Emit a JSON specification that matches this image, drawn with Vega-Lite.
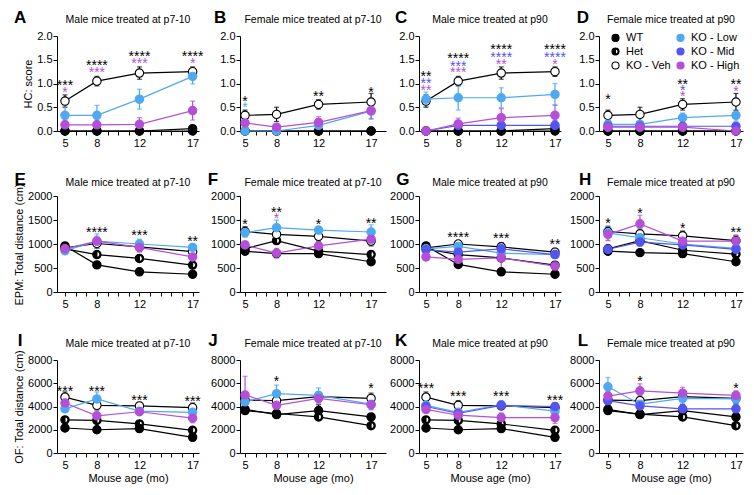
{
"$schema": "https://vega.github.io/schema/vega-lite/v6.json",
"background": "white",
"padding": {"left": 13, "top": 8, "right": 5, "bottom": 5},
"columns": 4,
"align": "each",
"spacing": {"row": 23, "column": 3},
"resolve": {"scale": {"fill": "independent", "stroke": "independent", "shape": "independent", "color": "independent"}, "legend": {"fill": "independent", "stroke": "independent", "shape": "independent", "color": "independent"}},
"datasets": {
"pts": [
{"p":"A","g":"WT","x":5,"y":0,"e":0},{"p":"A","g":"WT","x":8,"y":0,"e":0},{"p":"A","g":"WT","x":12,"y":0,"e":0},{"p":"A","g":"WT","x":17,"y":0,"e":0},
{"p":"A","g":"Het","x":5,"y":0,"e":0},{"p":"A","g":"Het","x":8,"y":0,"e":0},{"p":"A","g":"Het","x":12,"y":0,"e":0},{"p":"A","g":"Het","x":17,"y":0.05,"e":0.02},
{"p":"A","g":"KO - Veh","x":5,"y":0.63,"e":0.13},{"p":"A","g":"KO - Veh","x":8,"y":1.05,"e":0.1},{"p":"A","g":"KO - Veh","x":12,"y":1.22,"e":0.13},{"p":"A","g":"KO - Veh","x":17,"y":1.25,"e":0.1},
{"p":"A","g":"KO - Low","x":5,"y":0.33,"e":0.2},{"p":"A","g":"KO - Low","x":8,"y":0.33,"e":0.21},{"p":"A","g":"KO - Low","x":12,"y":0.67,"e":0.21},{"p":"A","g":"KO - Low","x":17,"y":1.15,"e":0.16},
{"p":"A","g":"KO - High","x":5,"y":0.13,"e":0.1},{"p":"A","g":"KO - High","x":8,"y":0.13,"e":0.1},{"p":"A","g":"KO - High","x":12,"y":0.14,"e":0.14},{"p":"A","g":"KO - High","x":17,"y":0.43,"e":0.2},

{"p":"B","g":"WT","x":5,"y":0,"e":0},{"p":"B","g":"WT","x":8,"y":0,"e":0},{"p":"B","g":"WT","x":12,"y":0,"e":0},{"p":"B","g":"WT","x":17,"y":0,"e":0},
{"p":"B","g":"Het","x":5,"y":0,"e":0},{"p":"B","g":"Het","x":8,"y":0,"e":0},{"p":"B","g":"Het","x":12,"y":0,"e":0},{"p":"B","g":"Het","x":17,"y":0,"e":0},
{"p":"B","g":"KO - Veh","x":5,"y":0.33,"e":0.11},{"p":"B","g":"KO - Veh","x":8,"y":0.35,"e":0.15},{"p":"B","g":"KO - Veh","x":12,"y":0.56,"e":0.1},{"p":"B","g":"KO - Veh","x":17,"y":0.61,"e":0.18},
{"p":"B","g":"KO - Low","x":5,"y":0,"e":0},{"p":"B","g":"KO - Low","x":8,"y":0,"e":0},{"p":"B","g":"KO - Low","x":12,"y":0.12,"e":0.1},{"p":"B","g":"KO - Low","x":17,"y":0.42,"e":0.17},
{"p":"B","g":"KO - High","x":5,"y":0.17,"e":0.06},{"p":"B","g":"KO - High","x":8,"y":0.08,"e":0.06},{"p":"B","g":"KO - High","x":12,"y":0.18,"e":0.12},{"p":"B","g":"KO - High","x":17,"y":0.43,"e":0.17},

{"p":"C","g":"WT","x":5,"y":0,"e":0},{"p":"C","g":"WT","x":8,"y":0,"e":0},{"p":"C","g":"WT","x":12,"y":0,"e":0},{"p":"C","g":"WT","x":17,"y":0,"e":0},
{"p":"C","g":"Het","x":5,"y":0,"e":0},{"p":"C","g":"Het","x":8,"y":0,"e":0},{"p":"C","g":"Het","x":12,"y":0,"e":0},{"p":"C","g":"Het","x":17,"y":0.05,"e":0.02},
{"p":"C","g":"KO - Veh","x":5,"y":0.63,"e":0.13},{"p":"C","g":"KO - Veh","x":8,"y":1.05,"e":0.1},{"p":"C","g":"KO - Veh","x":12,"y":1.22,"e":0.13},{"p":"C","g":"KO - Veh","x":17,"y":1.25,"e":0.1},
{"p":"C","g":"KO - Low","x":5,"y":0.67,"e":0.15},{"p":"C","g":"KO - Low","x":8,"y":0.7,"e":0.26},{"p":"C","g":"KO - Low","x":12,"y":0.7,"e":0.21},{"p":"C","g":"KO - Low","x":17,"y":0.77,"e":0.23},
{"p":"C","g":"KO - Mid","x":5,"y":0,"e":0},{"p":"C","g":"KO - Mid","x":8,"y":0.12,"e":0.1},{"p":"C","g":"KO - Mid","x":12,"y":0.12,"e":0.1},{"p":"C","g":"KO - Mid","x":17,"y":0.12,"e":0.1},
{"p":"C","g":"KO - High","x":5,"y":0,"e":0},{"p":"C","g":"KO - High","x":8,"y":0.15,"e":0.12},{"p":"C","g":"KO - High","x":12,"y":0.28,"e":0.19},{"p":"C","g":"KO - High","x":17,"y":0.33,"e":0.22},

{"p":"D","g":"WT","x":5,"y":0,"e":0},{"p":"D","g":"WT","x":8,"y":0,"e":0},{"p":"D","g":"WT","x":12,"y":0,"e":0},{"p":"D","g":"WT","x":17,"y":0,"e":0},
{"p":"D","g":"Het","x":5,"y":0,"e":0},{"p":"D","g":"Het","x":8,"y":0,"e":0},{"p":"D","g":"Het","x":12,"y":0,"e":0},{"p":"D","g":"Het","x":17,"y":0,"e":0},
{"p":"D","g":"KO - Veh","x":5,"y":0.33,"e":0.11},{"p":"D","g":"KO - Veh","x":8,"y":0.35,"e":0.15},{"p":"D","g":"KO - Veh","x":12,"y":0.56,"e":0.12},{"p":"D","g":"KO - Veh","x":17,"y":0.61,"e":0.18},
{"p":"D","g":"KO - Low","x":5,"y":0.14,"e":0.06},{"p":"D","g":"KO - Low","x":8,"y":0.14,"e":0.06},{"p":"D","g":"KO - Low","x":12,"y":0.28,"e":0.1},{"p":"D","g":"KO - Low","x":17,"y":0.33,"e":0.12},
{"p":"D","g":"KO - Mid","x":5,"y":0.1,"e":0.05},{"p":"D","g":"KO - Mid","x":8,"y":0.1,"e":0.05},{"p":"D","g":"KO - Mid","x":12,"y":0.1,"e":0.06},{"p":"D","g":"KO - Mid","x":17,"y":0.1,"e":0.06},
{"p":"D","g":"KO - High","x":5,"y":0.08,"e":0.05},{"p":"D","g":"KO - High","x":8,"y":0.08,"e":0.05},{"p":"D","g":"KO - High","x":12,"y":0.08,"e":0.07},{"p":"D","g":"KO - High","x":17,"y":0,"e":0},

{"p":"E","g":"WT","x":5,"y":960,"e":50},{"p":"E","g":"WT","x":8,"y":565,"e":40},{"p":"E","g":"WT","x":12,"y":420,"e":60},{"p":"E","g":"WT","x":17,"y":370,"e":60},
{"p":"E","g":"Het","x":5,"y":900,"e":60},{"p":"E","g":"Het","x":8,"y":780,"e":50},{"p":"E","g":"Het","x":12,"y":700,"e":60},{"p":"E","g":"Het","x":17,"y":560,"e":60},
{"p":"E","g":"KO - Veh","x":5,"y":920,"e":60},{"p":"E","g":"KO - Veh","x":8,"y":1010,"e":100},{"p":"E","g":"KO - Veh","x":12,"y":940,"e":90},{"p":"E","g":"KO - Veh","x":17,"y":840,"e":80},
{"p":"E","g":"KO - Low","x":5,"y":860,"e":80},{"p":"E","g":"KO - Low","x":8,"y":1060,"e":150},{"p":"E","g":"KO - Low","x":12,"y":1000,"e":100},{"p":"E","g":"KO - Low","x":17,"y":930,"e":80},
{"p":"E","g":"KO - High","x":5,"y":900,"e":50},{"p":"E","g":"KO - High","x":8,"y":1060,"e":100},{"p":"E","g":"KO - High","x":12,"y":930,"e":100},{"p":"E","g":"KO - High","x":17,"y":730,"e":100},

{"p":"F","g":"WT","x":5,"y":850,"e":50},{"p":"F","g":"WT","x":8,"y":800,"e":60},{"p":"F","g":"WT","x":12,"y":800,"e":70},{"p":"F","g":"WT","x":17,"y":630,"e":40},
{"p":"F","g":"Het","x":5,"y":900,"e":60},{"p":"F","g":"Het","x":8,"y":1070,"e":60},{"p":"F","g":"Het","x":12,"y":850,"e":60},{"p":"F","g":"Het","x":17,"y":780,"e":50},
{"p":"F","g":"KO - Veh","x":5,"y":1260,"e":100},{"p":"F","g":"KO - Veh","x":8,"y":1200,"e":100},{"p":"F","g":"KO - Veh","x":12,"y":1160,"e":100},{"p":"F","g":"KO - Veh","x":17,"y":1060,"e":100},
{"p":"F","g":"KO - Low","x":5,"y":1240,"e":100},{"p":"F","g":"KO - Low","x":8,"y":1340,"e":160},{"p":"F","g":"KO - Low","x":12,"y":1290,"e":60},{"p":"F","g":"KO - Low","x":17,"y":1250,"e":150},
{"p":"F","g":"KO - High","x":5,"y":980,"e":80},{"p":"F","g":"KO - High","x":8,"y":810,"e":100},{"p":"F","g":"KO - High","x":12,"y":960,"e":80},{"p":"F","g":"KO - High","x":17,"y":1100,"e":80},

{"p":"G","g":"WT","x":5,"y":960,"e":50},{"p":"G","g":"WT","x":8,"y":575,"e":40},{"p":"G","g":"WT","x":12,"y":420,"e":60},{"p":"G","g":"WT","x":17,"y":370,"e":60},
{"p":"G","g":"Het","x":5,"y":900,"e":60},{"p":"G","g":"Het","x":8,"y":780,"e":50},{"p":"G","g":"Het","x":12,"y":710,"e":60},{"p":"G","g":"Het","x":17,"y":560,"e":60},
{"p":"G","g":"KO - Veh","x":5,"y":920,"e":60},{"p":"G","g":"KO - Veh","x":8,"y":1000,"e":60},{"p":"G","g":"KO - Veh","x":12,"y":940,"e":90},{"p":"G","g":"KO - Veh","x":17,"y":830,"e":80},
{"p":"G","g":"KO - Low","x":5,"y":900,"e":70},{"p":"G","g":"KO - Low","x":8,"y":950,"e":80},{"p":"G","g":"KO - Low","x":12,"y":810,"e":100},{"p":"G","g":"KO - Low","x":17,"y":780,"e":70},
{"p":"G","g":"KO - Mid","x":5,"y":880,"e":60},{"p":"G","g":"KO - Mid","x":8,"y":830,"e":60},{"p":"G","g":"KO - Mid","x":12,"y":900,"e":100},{"p":"G","g":"KO - Mid","x":17,"y":780,"e":60},
{"p":"G","g":"KO - High","x":5,"y":730,"e":60},{"p":"G","g":"KO - High","x":8,"y":680,"e":60},{"p":"G","g":"KO - High","x":12,"y":710,"e":300},{"p":"G","g":"KO - High","x":17,"y":540,"e":60},

{"p":"H","g":"WT","x":5,"y":850,"e":50},{"p":"H","g":"WT","x":8,"y":820,"e":40},{"p":"H","g":"WT","x":12,"y":800,"e":80},{"p":"H","g":"WT","x":17,"y":630,"e":40},
{"p":"H","g":"Het","x":5,"y":900,"e":60},{"p":"H","g":"Het","x":8,"y":1070,"e":60},{"p":"H","g":"Het","x":12,"y":870,"e":60},{"p":"H","g":"Het","x":17,"y":790,"e":50},
{"p":"H","g":"KO - Veh","x":5,"y":1260,"e":100},{"p":"H","g":"KO - Veh","x":8,"y":1210,"e":100},{"p":"H","g":"KO - Veh","x":12,"y":1170,"e":100},{"p":"H","g":"KO - Veh","x":17,"y":1070,"e":100},
{"p":"H","g":"KO - Low","x":5,"y":1230,"e":150},{"p":"H","g":"KO - Low","x":8,"y":1130,"e":80},{"p":"H","g":"KO - Low","x":12,"y":1000,"e":80},{"p":"H","g":"KO - Low","x":17,"y":910,"e":80},
{"p":"H","g":"KO - Mid","x":5,"y":890,"e":80},{"p":"H","g":"KO - Mid","x":8,"y":1040,"e":80},{"p":"H","g":"KO - Mid","x":12,"y":980,"e":80},{"p":"H","g":"KO - Mid","x":17,"y":890,"e":70},
{"p":"H","g":"KO - High","x":5,"y":1200,"e":130},{"p":"H","g":"KO - High","x":8,"y":1420,"e":180},{"p":"H","g":"KO - High","x":12,"y":1060,"e":80},{"p":"H","g":"KO - High","x":17,"y":1060,"e":130},

{"p":"I","g":"WT","x":5,"y":2150,"e":150},{"p":"I","g":"WT","x":8,"y":2000,"e":150},{"p":"I","g":"WT","x":12,"y":2100,"e":250},{"p":"I","g":"WT","x":17,"y":1350,"e":250},
{"p":"I","g":"Het","x":5,"y":2850,"e":150},{"p":"I","g":"Het","x":8,"y":2800,"e":150},{"p":"I","g":"Het","x":12,"y":2500,"e":150},{"p":"I","g":"Het","x":17,"y":1950,"e":150},
{"p":"I","g":"KO - Veh","x":5,"y":4800,"e":450},{"p":"I","g":"KO - Veh","x":8,"y":4100,"e":400},{"p":"I","g":"KO - Veh","x":12,"y":4050,"e":300},{"p":"I","g":"KO - Veh","x":17,"y":3900,"e":400},
{"p":"I","g":"KO - Low","x":5,"y":3800,"e":300},{"p":"I","g":"KO - Low","x":8,"y":4650,"e":600},{"p":"I","g":"KO - Low","x":12,"y":3600,"e":300},{"p":"I","g":"KO - Low","x":17,"y":3500,"e":400},
{"p":"I","g":"KO - High","x":5,"y":4300,"e":300},{"p":"I","g":"KO - High","x":8,"y":3200,"e":300},{"p":"I","g":"KO - High","x":12,"y":3550,"e":300},{"p":"I","g":"KO - High","x":17,"y":3000,"e":400},

{"p":"J","g":"WT","x":5,"y":3750,"e":300},{"p":"J","g":"WT","x":8,"y":3300,"e":200},{"p":"J","g":"WT","x":12,"y":3650,"e":500},{"p":"J","g":"WT","x":17,"y":3100,"e":200},
{"p":"J","g":"Het","x":5,"y":3650,"e":200},{"p":"J","g":"Het","x":8,"y":3400,"e":200},{"p":"J","g":"Het","x":12,"y":3100,"e":200},{"p":"J","g":"Het","x":17,"y":2350,"e":150},
{"p":"J","g":"KO - Veh","x":5,"y":4550,"e":400},{"p":"J","g":"KO - Veh","x":8,"y":4500,"e":400},{"p":"J","g":"KO - Veh","x":12,"y":4850,"e":400},{"p":"J","g":"KO - Veh","x":17,"y":4700,"e":450},
{"p":"J","g":"KO - Low","x":5,"y":4400,"e":400},{"p":"J","g":"KO - Low","x":8,"y":5100,"e":750},{"p":"J","g":"KO - Low","x":12,"y":4950,"e":650},{"p":"J","g":"KO - Low","x":17,"y":4200,"e":500},
{"p":"J","g":"KO - High","x":5,"y":5000,"e":1600},{"p":"J","g":"KO - High","x":8,"y":4100,"e":400},{"p":"J","g":"KO - High","x":12,"y":4700,"e":400},{"p":"J","g":"KO - High","x":17,"y":4150,"e":400},

{"p":"K","g":"WT","x":5,"y":2150,"e":150},{"p":"K","g":"WT","x":8,"y":2000,"e":150},{"p":"K","g":"WT","x":12,"y":2100,"e":250},{"p":"K","g":"WT","x":17,"y":1350,"e":250},
{"p":"K","g":"Het","x":5,"y":2850,"e":150},{"p":"K","g":"Het","x":8,"y":2800,"e":150},{"p":"K","g":"Het","x":12,"y":2500,"e":150},{"p":"K","g":"Het","x":17,"y":1950,"e":150},
{"p":"K","g":"KO - Veh","x":5,"y":4800,"e":450},{"p":"K","g":"KO - Veh","x":8,"y":4100,"e":400},{"p":"K","g":"KO - Veh","x":12,"y":4050,"e":300},{"p":"K","g":"KO - Veh","x":17,"y":3900,"e":400},
{"p":"K","g":"KO - Low","x":5,"y":4100,"e":300},{"p":"K","g":"KO - Low","x":8,"y":3500,"e":300},{"p":"K","g":"KO - Low","x":12,"y":4150,"e":300},{"p":"K","g":"KO - Low","x":17,"y":3600,"e":400},
{"p":"K","g":"KO - Mid","x":5,"y":4000,"e":300},{"p":"K","g":"KO - Mid","x":8,"y":3400,"e":300},{"p":"K","g":"KO - Mid","x":12,"y":4100,"e":300},{"p":"K","g":"KO - Mid","x":17,"y":4000,"e":300},
{"p":"K","g":"KO - High","x":5,"y":3750,"e":300},{"p":"K","g":"KO - High","x":8,"y":3250,"e":300},{"p":"K","g":"KO - High","x":12,"y":3050,"e":400},{"p":"K","g":"KO - High","x":17,"y":3050,"e":500},

{"p":"L","g":"WT","x":5,"y":3750,"e":300},{"p":"L","g":"WT","x":8,"y":3300,"e":200},{"p":"L","g":"WT","x":12,"y":3650,"e":500},{"p":"L","g":"WT","x":17,"y":3100,"e":200},
{"p":"L","g":"Het","x":5,"y":3650,"e":200},{"p":"L","g":"Het","x":8,"y":3350,"e":200},{"p":"L","g":"Het","x":12,"y":3100,"e":200},{"p":"L","g":"Het","x":17,"y":2350,"e":150},
{"p":"L","g":"KO - Veh","x":5,"y":4550,"e":400},{"p":"L","g":"KO - Veh","x":8,"y":4500,"e":400},{"p":"L","g":"KO - Veh","x":12,"y":4850,"e":400},{"p":"L","g":"KO - Veh","x":17,"y":4700,"e":450},
{"p":"L","g":"KO - Low","x":5,"y":5700,"e":800},{"p":"L","g":"KO - Low","x":8,"y":4200,"e":400},{"p":"L","g":"KO - Low","x":12,"y":4700,"e":500},{"p":"L","g":"KO - Low","x":17,"y":4650,"e":400},
{"p":"L","g":"KO - Mid","x":5,"y":4500,"e":400},{"p":"L","g":"KO - Mid","x":8,"y":4050,"e":400},{"p":"L","g":"KO - Mid","x":12,"y":3800,"e":400},{"p":"L","g":"KO - Mid","x":17,"y":3800,"e":400},
{"p":"L","g":"KO - High","x":5,"y":4900,"e":400},{"p":"L","g":"KO - High","x":8,"y":5350,"e":600},{"p":"L","g":"KO - High","x":12,"y":5150,"e":500},{"p":"L","g":"KO - High","x":17,"y":4950,"e":400}
],
"stars": [
{"p":"A","g":"KO - Veh","x":5,"y":1.03,"t":"***"},{"p":"A","g":"KO - High","x":5,"y":0.88,"t":"*"},
{"p":"A","g":"KO - Veh","x":8,"y":1.45,"t":"****"},{"p":"A","g":"KO - High","x":8,"y":1.3,"t":"***"},
{"p":"A","g":"KO - Veh","x":12,"y":1.64,"t":"****"},{"p":"A","g":"KO - High","x":12,"y":1.49,"t":"***"},
{"p":"A","g":"KO - Veh","x":17,"y":1.64,"t":"****"},{"p":"A","g":"KO - High","x":17,"y":1.49,"t":"*"},
{"p":"B","g":"KO - Veh","x":5,"y":0.7,"t":"*"},{"p":"B","g":"KO - Low","x":5,"y":0.57,"t":"*"},
{"p":"B","g":"KO - Veh","x":12,"y":0.8,"t":"**"},{"p":"B","g":"KO - Veh","x":17,"y":0.88,"t":"*"},
{"p":"C","g":"KO - Veh","x":5,"y":1.22,"t":"**"},{"p":"C","g":"KO - Mid","x":5,"y":1.07,"t":"**"},{"p":"C","g":"KO - High","x":5,"y":0.93,"t":"**"},
{"p":"C","g":"KO - Veh","x":8,"y":1.6,"t":"****"},{"p":"C","g":"KO - Mid","x":8,"y":1.43,"t":"***"},{"p":"C","g":"KO - High","x":8,"y":1.3,"t":"***"},
{"p":"C","g":"KO - Veh","x":12,"y":1.79,"t":"****"},{"p":"C","g":"KO - Mid","x":12,"y":1.62,"t":"****"},{"p":"C","g":"KO - High","x":12,"y":1.47,"t":"**"},
{"p":"C","g":"KO - Veh","x":17,"y":1.79,"t":"****"},{"p":"C","g":"KO - Mid","x":17,"y":1.62,"t":"****"},{"p":"C","g":"KO - High","x":17,"y":1.47,"t":"*"},
{"p":"D","g":"KO - Veh","x":5,"y":0.74,"t":"*"},
{"p":"D","g":"KO - Veh","x":12,"y":1.05,"t":"**"},{"p":"D","g":"KO - Mid","x":12,"y":0.93,"t":"*"},{"p":"D","g":"KO - High","x":12,"y":0.8,"t":"*"},
{"p":"D","g":"KO - Veh","x":17,"y":1.05,"t":"**"},{"p":"D","g":"KO - High","x":17,"y":0.9,"t":"*"},
{"p":"E","g":"KO - Veh","x":8,"y":1320,"t":"****"},{"p":"E","g":"KO - Veh","x":12,"y":1250,"t":"***"},{"p":"E","g":"KO - Veh","x":17,"y":1130,"t":"**"},
{"p":"F","g":"KO - Veh","x":5,"y":1470,"t":"*"},{"p":"F","g":"KO - Veh","x":8,"y":1720,"t":"**"},{"p":"F","g":"KO - High","x":8,"y":1600,"t":"*"},
{"p":"F","g":"KO - Veh","x":12,"y":1470,"t":"*"},{"p":"F","g":"KO - Veh","x":17,"y":1490,"t":"**"},
{"p":"G","g":"KO - Veh","x":8,"y":1215,"t":"****"},{"p":"G","g":"KO - Veh","x":12,"y":1180,"t":"***"},{"p":"G","g":"KO - Veh","x":17,"y":1056,"t":"**"},
{"p":"H","g":"KO - Veh","x":5,"y":1510,"t":"*"},{"p":"H","g":"KO - Veh","x":8,"y":1700,"t":"*"},{"p":"H","g":"KO - Veh","x":12,"y":1400,"t":"*"},{"p":"H","g":"KO - Veh","x":17,"y":1320,"t":"**"},
{"p":"I","g":"KO - Veh","x":5,"y":5610,"t":"***"},{"p":"I","g":"KO - Veh","x":8,"y":5610,"t":"***"},{"p":"I","g":"KO - Veh","x":12,"y":4830,"t":"***"},{"p":"I","g":"KO - Veh","x":17,"y":4750,"t":"***"},
{"p":"J","g":"KO - Veh","x":8,"y":6470,"t":"*"},{"p":"J","g":"KO - Veh","x":17,"y":5890,"t":"*"},
{"p":"K","g":"KO - Veh","x":5,"y":5810,"t":"***"},{"p":"K","g":"KO - Veh","x":8,"y":5180,"t":"***"},{"p":"K","g":"KO - Veh","x":12,"y":5180,"t":"***"},{"p":"K","g":"KO - Veh","x":17,"y":4830,"t":"***"},
{"p":"L","g":"KO - Veh","x":8,"y":6470,"t":"*"},{"p":"L","g":"KO - Veh","x":17,"y":5890,"t":"*"}
]
},
"concat": [
{"width":142,"height":95,"title":"Male mice treated at p7-10","data":{"name":"pts"},"transform":[{"filter":"datum.p == 'A'"}],
"encoding":{"x":{"field":"x","type":"quantitative","scale":{"domain":[4.25,17.6],"nice":false,"zero":false},"axis":{"values":[5,6,7,8,9,10,11,12,13,14,15,16,17],"labelExpr":"indexof([5,8,12,17], datum.value) >= 0 ? datum.label : ''","title":null}},
"y":{"field":"y","type":"quantitative","scale":{"domain":[0,2],"nice":false,"zero":false},"axis":{"values":[0,0.5,1,1.5,2],"format":".1f","title":"HC: score"}}},
"layer":[
{"mark":{"type":"line","strokeWidth":1.2},"encoding":{"color":{"field":"g","type":"nominal","scale":{"domain":["KO - High","KO - Mid","KO - Low","KO - Veh","Het","WT"],"range":["#B44FD8","#5454F0","#4FA9F2","black","black","black"]},"legend":null}}},
{"mark":{"type":"errorbar","ticks":true,"thickness":1.2},"encoding":{"yError":{"field":"e"},"color":{"field":"g","type":"nominal","scale":{"domain":["KO - High","KO - Mid","KO - Low","KO - Veh","Het","WT"],"range":["#B44FD8","#5454F0","#4FA9F2","black","black","black"]},"legend":null}}},
{"transform":[{"filter":"datum.g == 'Het'"}],"mark":{"type":"point","shape":"circle","filled":true,"fill":"white","strokeWidth":0,"size":70,"opacity":1}},
{"mark":{"type":"point","filled":true,"size":70,"opacity":1,"strokeWidth":1.1},"encoding":{
"fill":{"field":"g","type":"nominal","scale":{"domain":["WT","Het","KO - Veh","KO - Low","KO - Mid","KO - High"],"range":["black","black","white","#4FA9F2","#5454F0","#B44FD8"]},"legend":null},
"stroke":{"field":"g","type":"nominal","scale":{"domain":["WT","Het","KO - Veh","KO - Low","KO - Mid","KO - High"],"range":["black","black","black","#4FA9F2","#5454F0","#B44FD8"]},"legend":null},
"shape":{"field":"g","type":"nominal","scale":{"domain":["WT","Het","KO - Veh","KO - Low","KO - Mid","KO - High"],"range":["circle","M0,-1A1,1,0,0,0,0,1Z M0,-1A1,1,0,0,1,0,1L0,0.72A0.72,0.72,0,0,0,0,-0.72Z","circle","circle","circle","circle"]},"legend":null}}},
{"data":{"name":"stars"},"transform":[{"filter":"datum.p == 'A'"}],"mark":{"type":"text","fontSize":14,"dy":8,"baseline":"alphabetic"},"encoding":{"text":{"field":"t"},"color":{"field":"g","type":"nominal","scale":{"domain":["KO - High","KO - Mid","KO - Low","KO - Veh","Het","WT"],"range":["#B44FD8","#5454F0","#4FA9F2","black","black","black"]},"legend":null}}},
{"transform":[{"filter":"datum.g == 'WT' && datum.x == 5"}],"mark":{"type":"text","text":"A","fontSize":17,"fontWeight":"bold","baseline":"middle"},"encoding":{"x":{"datum":0.78},"y":{"datum":2.38}}}
]},

{"width":146,"height":95,"title":"Female mice treated at p7-10","data":{"name":"pts"},"transform":[{"filter":"datum.p == 'B'"}],
"encoding":{"x":{"field":"x","type":"quantitative","scale":{"domain":[4.52,18.42],"nice":false,"zero":false},"axis":{"values":[5,6,7,8,9,10,11,12,13,14,15,16,17],"labelExpr":"indexof([5,8,12,17], datum.value) >= 0 ? datum.label : ''","title":null}},
"y":{"field":"y","type":"quantitative","scale":{"domain":[0,2],"nice":false,"zero":false},"axis":{"values":[0,0.5,1,1.5,2],"format":".1f","title":null}}},
"layer":[
{"mark":{"type":"line","strokeWidth":1.2},"encoding":{"color":{"field":"g","type":"nominal","scale":{"domain":["KO - High","KO - Mid","KO - Low","KO - Veh","Het","WT"],"range":["#B44FD8","#5454F0","#4FA9F2","black","black","black"]},"legend":null}}},
{"mark":{"type":"errorbar","ticks":true,"thickness":1.2},"encoding":{"yError":{"field":"e"},"color":{"field":"g","type":"nominal","scale":{"domain":["KO - High","KO - Mid","KO - Low","KO - Veh","Het","WT"],"range":["#B44FD8","#5454F0","#4FA9F2","black","black","black"]},"legend":null}}},
{"transform":[{"filter":"datum.g == 'Het'"}],"mark":{"type":"point","shape":"circle","filled":true,"fill":"white","strokeWidth":0,"size":70,"opacity":1}},
{"mark":{"type":"point","filled":true,"size":70,"opacity":1,"strokeWidth":1.1},"encoding":{
"fill":{"field":"g","type":"nominal","scale":{"domain":["WT","Het","KO - Veh","KO - Low","KO - Mid","KO - High"],"range":["black","black","white","#4FA9F2","#5454F0","#B44FD8"]},"legend":null},
"stroke":{"field":"g","type":"nominal","scale":{"domain":["WT","Het","KO - Veh","KO - Low","KO - Mid","KO - High"],"range":["black","black","black","#4FA9F2","#5454F0","#B44FD8"]},"legend":null},
"shape":{"field":"g","type":"nominal","scale":{"domain":["WT","Het","KO - Veh","KO - Low","KO - Mid","KO - High"],"range":["circle","M0,-1A1,1,0,0,0,0,1Z M0,-1A1,1,0,0,1,0,1L0,0.72A0.72,0.72,0,0,0,0,-0.72Z","circle","circle","circle","circle"]},"legend":null}}},
{"data":{"name":"stars"},"transform":[{"filter":"datum.p == 'B'"}],"mark":{"type":"text","fontSize":14,"dy":8,"baseline":"alphabetic"},"encoding":{"text":{"field":"t"},"color":{"field":"g","type":"nominal","scale":{"domain":["KO - High","KO - Mid","KO - Low","KO - Veh","Het","WT"],"range":["#B44FD8","#5454F0","#4FA9F2","black","black","black"]},"legend":null}}},
{"transform":[{"filter":"datum.g == 'WT' && datum.x == 5"}],"mark":{"type":"text","text":"B","fontSize":17,"fontWeight":"bold","baseline":"middle"},"encoding":{"x":{"datum":2.62},"y":{"datum":2.38}}}
]},

{"width":142,"height":95,"title":"Male mice treated at p90","data":{"name":"pts"},"transform":[{"filter":"datum.p == 'C'"}],
"encoding":{"x":{"field":"x","type":"quantitative","scale":{"domain":[4.35,17.56],"nice":false,"zero":false},"axis":{"values":[5,6,7,8,9,10,11,12,13,14,15,16,17],"labelExpr":"indexof([5,8,12,17], datum.value) >= 0 ? datum.label : ''","title":null}},
"y":{"field":"y","type":"quantitative","scale":{"domain":[0,2],"nice":false,"zero":false},"axis":{"values":[0,0.5,1,1.5,2],"format":".1f","title":null}}},
"layer":[
{"mark":{"type":"line","strokeWidth":1.2},"encoding":{"color":{"field":"g","type":"nominal","scale":{"domain":["KO - High","KO - Mid","KO - Low","KO - Veh","Het","WT"],"range":["#B44FD8","#5454F0","#4FA9F2","black","black","black"]},"legend":null}}},
{"mark":{"type":"errorbar","ticks":true,"thickness":1.2},"encoding":{"yError":{"field":"e"},"color":{"field":"g","type":"nominal","scale":{"domain":["KO - High","KO - Mid","KO - Low","KO - Veh","Het","WT"],"range":["#B44FD8","#5454F0","#4FA9F2","black","black","black"]},"legend":null}}},
{"transform":[{"filter":"datum.g == 'Het'"}],"mark":{"type":"point","shape":"circle","filled":true,"fill":"white","strokeWidth":0,"size":70,"opacity":1}},
{"mark":{"type":"point","filled":true,"size":70,"opacity":1,"strokeWidth":1.1},"encoding":{
"fill":{"field":"g","type":"nominal","scale":{"domain":["WT","Het","KO - Veh","KO - Low","KO - Mid","KO - High"],"range":["black","black","white","#4FA9F2","#5454F0","#B44FD8"]},"legend":null},
"stroke":{"field":"g","type":"nominal","scale":{"domain":["WT","Het","KO - Veh","KO - Low","KO - Mid","KO - High"],"range":["black","black","black","#4FA9F2","#5454F0","#B44FD8"]},"legend":null},
"shape":{"field":"g","type":"nominal","scale":{"domain":["WT","Het","KO - Veh","KO - Low","KO - Mid","KO - High"],"range":["circle","M0,-1A1,1,0,0,0,0,1Z M0,-1A1,1,0,0,1,0,1L0,0.72A0.72,0.72,0,0,0,0,-0.72Z","circle","circle","circle","circle"]},"legend":null}}},
{"data":{"name":"stars"},"transform":[{"filter":"datum.p == 'C'"}],"mark":{"type":"text","fontSize":14,"dy":8,"baseline":"alphabetic"},"encoding":{"text":{"field":"t"},"color":{"field":"g","type":"nominal","scale":{"domain":["KO - High","KO - Mid","KO - Low","KO - Veh","Het","WT"],"range":["#B44FD8","#5454F0","#4FA9F2","black","black","black"]},"legend":null}}},
{"transform":[{"filter":"datum.g == 'WT' && datum.x == 5"}],"mark":{"type":"text","text":"C","fontSize":17,"fontWeight":"bold","baseline":"middle"},"encoding":{"x":{"datum":2.68},"y":{"datum":2.38}}}
]},

{"width":144,"height":95,"title":"Female mice treated at p90","data":{"name":"pts"},"transform":[{"filter":"datum.p == 'D'"}],
"encoding":{"x":{"field":"x","type":"quantitative","scale":{"domain":[4.16,17.66],"nice":false,"zero":false},"axis":{"values":[5,6,7,8,9,10,11,12,13,14,15,16,17],"labelExpr":"indexof([5,8,12,17], datum.value) >= 0 ? datum.label : ''","title":null}},
"y":{"field":"y","type":"quantitative","scale":{"domain":[0,2],"nice":false,"zero":false},"axis":{"values":[0,0.5,1,1.5,2],"format":".1f","title":null}}},
"layer":[
{"mark":{"type":"line","strokeWidth":1.2},"encoding":{"color":{"field":"g","type":"nominal","scale":{"domain":["KO - High","KO - Mid","KO - Low","KO - Veh","Het","WT"],"range":["#B44FD8","#5454F0","#4FA9F2","black","black","black"]},"legend":null}}},
{"mark":{"type":"errorbar","ticks":true,"thickness":1.2},"encoding":{"yError":{"field":"e"},"color":{"field":"g","type":"nominal","scale":{"domain":["KO - High","KO - Mid","KO - Low","KO - Veh","Het","WT"],"range":["#B44FD8","#5454F0","#4FA9F2","black","black","black"]},"legend":null}}},
{"transform":[{"filter":"datum.g == 'Het'"}],"mark":{"type":"point","shape":"circle","filled":true,"fill":"white","strokeWidth":0,"size":70,"opacity":1}},
{"mark":{"type":"point","filled":true,"size":70,"opacity":1,"strokeWidth":1.1},"encoding":{
"fill":{"field":"g","type":"nominal","scale":{"domain":["WT","Het","KO - Veh","KO - Low","KO - Mid","KO - High"],"range":["black","black","white","#4FA9F2","#5454F0","#B44FD8"]},"legend":{"title":null,"orient":"none","legendX":11,"legendY":-4,"columns":2,"columnPadding":3,"rowPadding":1,"labelFontSize":11,"labelOffset":5,"symbolSize":50,"symbolStrokeWidth":1.1}},
"stroke":{"field":"g","type":"nominal","scale":{"domain":["WT","Het","KO - Veh","KO - Low","KO - Mid","KO - High"],"range":["black","black","black","#4FA9F2","#5454F0","#B44FD8"]},"legend":{"title":null,"orient":"none","legendX":11,"legendY":-4,"columns":2,"columnPadding":3,"rowPadding":1,"labelFontSize":11,"labelOffset":5,"symbolSize":50,"symbolStrokeWidth":1.1}},
"shape":{"field":"g","type":"nominal","scale":{"domain":["WT","Het","KO - Veh","KO - Low","KO - Mid","KO - High"],"range":["circle","M0,-1A1,1,0,0,0,0,1Z M0,-1A1,1,0,0,1,0,1L0,0.72A0.72,0.72,0,0,0,0,-0.72Z","circle","circle","circle","circle"]},"legend":{"title":null,"orient":"none","legendX":11,"legendY":-4,"columns":2,"columnPadding":3,"rowPadding":1,"labelFontSize":11,"labelOffset":5,"symbolSize":50,"symbolStrokeWidth":1.1}}}},
{"data":{"name":"stars"},"transform":[{"filter":"datum.p == 'D'"}],"mark":{"type":"text","fontSize":14,"dy":8,"baseline":"alphabetic"},"encoding":{"text":{"field":"t"},"color":{"field":"g","type":"nominal","scale":{"domain":["KO - High","KO - Mid","KO - Low","KO - Veh","Het","WT"],"range":["#B44FD8","#5454F0","#4FA9F2","black","black","black"]},"legend":null}}},
{"transform":[{"filter":"datum.g == 'WT' && datum.x == 5"}],"mark":{"type":"text","text":"D","fontSize":17,"fontWeight":"bold","baseline":"middle"},"encoding":{"x":{"datum":2.66},"y":{"datum":2.38}}}
]},

{"width":142,"height":96,"title":"Male mice treated at p7-10","data":{"name":"pts"},"transform":[{"filter":"datum.p == 'E'"}],
"encoding":{"x":{"field":"x","type":"quantitative","scale":{"domain":[4.25,17.6],"nice":false,"zero":false},"axis":{"values":[5,6,7,8,9,10,11,12,13,14,15,16,17],"labelExpr":"indexof([5,8,12,17], datum.value) >= 0 ? datum.label : ''","title":null}},
"y":{"field":"y","type":"quantitative","scale":{"domain":[0,2000],"nice":false,"zero":false},"axis":{"values":[0,500,1000,1500,2000],"format":"d","title":"EPM: Total distance (cm)"}}},
"layer":[
{"mark":{"type":"line","strokeWidth":1.2},"encoding":{"color":{"field":"g","type":"nominal","scale":{"domain":["KO - High","KO - Mid","KO - Low","KO - Veh","Het","WT"],"range":["#B44FD8","#5454F0","#4FA9F2","black","black","black"]},"legend":null}}},
{"mark":{"type":"errorbar","ticks":true,"thickness":1.2},"encoding":{"yError":{"field":"e"},"color":{"field":"g","type":"nominal","scale":{"domain":["KO - High","KO - Mid","KO - Low","KO - Veh","Het","WT"],"range":["#B44FD8","#5454F0","#4FA9F2","black","black","black"]},"legend":null}}},
{"transform":[{"filter":"datum.g == 'Het'"}],"mark":{"type":"point","shape":"circle","filled":true,"fill":"white","strokeWidth":0,"size":70,"opacity":1}},
{"mark":{"type":"point","filled":true,"size":70,"opacity":1,"strokeWidth":1.1},"encoding":{
"fill":{"field":"g","type":"nominal","scale":{"domain":["WT","Het","KO - Veh","KO - Low","KO - Mid","KO - High"],"range":["black","black","white","#4FA9F2","#5454F0","#B44FD8"]},"legend":null},
"stroke":{"field":"g","type":"nominal","scale":{"domain":["WT","Het","KO - Veh","KO - Low","KO - Mid","KO - High"],"range":["black","black","black","#4FA9F2","#5454F0","#B44FD8"]},"legend":null},
"shape":{"field":"g","type":"nominal","scale":{"domain":["WT","Het","KO - Veh","KO - Low","KO - Mid","KO - High"],"range":["circle","M0,-1A1,1,0,0,0,0,1Z M0,-1A1,1,0,0,1,0,1L0,0.72A0.72,0.72,0,0,0,0,-0.72Z","circle","circle","circle","circle"]},"legend":null}}},
{"data":{"name":"stars"},"transform":[{"filter":"datum.p == 'E'"}],"mark":{"type":"text","fontSize":14,"dy":8,"baseline":"alphabetic"},"encoding":{"text":{"field":"t"},"color":{"field":"g","type":"nominal","scale":{"domain":["KO - High","KO - Mid","KO - Low","KO - Veh","Het","WT"],"range":["#B44FD8","#5454F0","#4FA9F2","black","black","black"]},"legend":null}}},
{"transform":[{"filter":"datum.g == 'WT' && datum.x == 5"}],"mark":{"type":"text","text":"E","fontSize":17,"fontWeight":"bold","baseline":"middle"},"encoding":{"x":{"datum":0.78},"y":{"datum":2333}}}
]},

{"width":146,"height":96,"title":"Female mice treated at p7-10","data":{"name":"pts"},"transform":[{"filter":"datum.p == 'F'"}],
"encoding":{"x":{"field":"x","type":"quantitative","scale":{"domain":[4.52,18.42],"nice":false,"zero":false},"axis":{"values":[5,6,7,8,9,10,11,12,13,14,15,16,17],"labelExpr":"indexof([5,8,12,17], datum.value) >= 0 ? datum.label : ''","title":null}},
"y":{"field":"y","type":"quantitative","scale":{"domain":[0,2000],"nice":false,"zero":false},"axis":{"values":[0,500,1000,1500,2000],"format":"d","title":null}}},
"layer":[
{"mark":{"type":"line","strokeWidth":1.2},"encoding":{"color":{"field":"g","type":"nominal","scale":{"domain":["KO - High","KO - Mid","KO - Low","KO - Veh","Het","WT"],"range":["#B44FD8","#5454F0","#4FA9F2","black","black","black"]},"legend":null}}},
{"mark":{"type":"errorbar","ticks":true,"thickness":1.2},"encoding":{"yError":{"field":"e"},"color":{"field":"g","type":"nominal","scale":{"domain":["KO - High","KO - Mid","KO - Low","KO - Veh","Het","WT"],"range":["#B44FD8","#5454F0","#4FA9F2","black","black","black"]},"legend":null}}},
{"transform":[{"filter":"datum.g == 'Het'"}],"mark":{"type":"point","shape":"circle","filled":true,"fill":"white","strokeWidth":0,"size":70,"opacity":1}},
{"mark":{"type":"point","filled":true,"size":70,"opacity":1,"strokeWidth":1.1},"encoding":{
"fill":{"field":"g","type":"nominal","scale":{"domain":["WT","Het","KO - Veh","KO - Low","KO - Mid","KO - High"],"range":["black","black","white","#4FA9F2","#5454F0","#B44FD8"]},"legend":null},
"stroke":{"field":"g","type":"nominal","scale":{"domain":["WT","Het","KO - Veh","KO - Low","KO - Mid","KO - High"],"range":["black","black","black","#4FA9F2","#5454F0","#B44FD8"]},"legend":null},
"shape":{"field":"g","type":"nominal","scale":{"domain":["WT","Het","KO - Veh","KO - Low","KO - Mid","KO - High"],"range":["circle","M0,-1A1,1,0,0,0,0,1Z M0,-1A1,1,0,0,1,0,1L0,0.72A0.72,0.72,0,0,0,0,-0.72Z","circle","circle","circle","circle"]},"legend":null}}},
{"data":{"name":"stars"},"transform":[{"filter":"datum.p == 'F'"}],"mark":{"type":"text","fontSize":14,"dy":8,"baseline":"alphabetic"},"encoding":{"text":{"field":"t"},"color":{"field":"g","type":"nominal","scale":{"domain":["KO - High","KO - Mid","KO - Low","KO - Veh","Het","WT"],"range":["#B44FD8","#5454F0","#4FA9F2","black","black","black"]},"legend":null}}},
{"transform":[{"filter":"datum.g == 'WT' && datum.x == 5"}],"mark":{"type":"text","text":"F","fontSize":17,"fontWeight":"bold","baseline":"middle"},"encoding":{"x":{"datum":1.95},"y":{"datum":2333}}}
]},

{"width":142,"height":96,"title":"Male mice treated at p90","data":{"name":"pts"},"transform":[{"filter":"datum.p == 'G'"}],
"encoding":{"x":{"field":"x","type":"quantitative","scale":{"domain":[4.35,17.56],"nice":false,"zero":false},"axis":{"values":[5,6,7,8,9,10,11,12,13,14,15,16,17],"labelExpr":"indexof([5,8,12,17], datum.value) >= 0 ? datum.label : ''","title":null}},
"y":{"field":"y","type":"quantitative","scale":{"domain":[0,2000],"nice":false,"zero":false},"axis":{"values":[0,500,1000,1500,2000],"format":"d","title":null}}},
"layer":[
{"mark":{"type":"line","strokeWidth":1.2},"encoding":{"color":{"field":"g","type":"nominal","scale":{"domain":["KO - High","KO - Mid","KO - Low","KO - Veh","Het","WT"],"range":["#B44FD8","#5454F0","#4FA9F2","black","black","black"]},"legend":null}}},
{"mark":{"type":"errorbar","ticks":true,"thickness":1.2},"encoding":{"yError":{"field":"e"},"color":{"field":"g","type":"nominal","scale":{"domain":["KO - High","KO - Mid","KO - Low","KO - Veh","Het","WT"],"range":["#B44FD8","#5454F0","#4FA9F2","black","black","black"]},"legend":null}}},
{"transform":[{"filter":"datum.g == 'Het'"}],"mark":{"type":"point","shape":"circle","filled":true,"fill":"white","strokeWidth":0,"size":70,"opacity":1}},
{"mark":{"type":"point","filled":true,"size":70,"opacity":1,"strokeWidth":1.1},"encoding":{
"fill":{"field":"g","type":"nominal","scale":{"domain":["WT","Het","KO - Veh","KO - Low","KO - Mid","KO - High"],"range":["black","black","white","#4FA9F2","#5454F0","#B44FD8"]},"legend":null},
"stroke":{"field":"g","type":"nominal","scale":{"domain":["WT","Het","KO - Veh","KO - Low","KO - Mid","KO - High"],"range":["black","black","black","#4FA9F2","#5454F0","#B44FD8"]},"legend":null},
"shape":{"field":"g","type":"nominal","scale":{"domain":["WT","Het","KO - Veh","KO - Low","KO - Mid","KO - High"],"range":["circle","M0,-1A1,1,0,0,0,0,1Z M0,-1A1,1,0,0,1,0,1L0,0.72A0.72,0.72,0,0,0,0,-0.72Z","circle","circle","circle","circle"]},"legend":null}}},
{"data":{"name":"stars"},"transform":[{"filter":"datum.p == 'G'"}],"mark":{"type":"text","fontSize":14,"dy":8,"baseline":"alphabetic"},"encoding":{"text":{"field":"t"},"color":{"field":"g","type":"nominal","scale":{"domain":["KO - High","KO - Mid","KO - Low","KO - Veh","Het","WT"],"range":["#B44FD8","#5454F0","#4FA9F2","black","black","black"]},"legend":null}}},
{"transform":[{"filter":"datum.g == 'WT' && datum.x == 5"}],"mark":{"type":"text","text":"G","fontSize":17,"fontWeight":"bold","baseline":"middle"},"encoding":{"x":{"datum":2.86},"y":{"datum":2333}}}
]},

{"width":144,"height":96,"title":"Female mice treated at p90","data":{"name":"pts"},"transform":[{"filter":"datum.p == 'H'"}],
"encoding":{"x":{"field":"x","type":"quantitative","scale":{"domain":[4.16,17.66],"nice":false,"zero":false},"axis":{"values":[5,6,7,8,9,10,11,12,13,14,15,16,17],"labelExpr":"indexof([5,8,12,17], datum.value) >= 0 ? datum.label : ''","title":null}},
"y":{"field":"y","type":"quantitative","scale":{"domain":[0,2000],"nice":false,"zero":false},"axis":{"values":[0,500,1000,1500,2000],"format":"d","title":null}}},
"layer":[
{"mark":{"type":"line","strokeWidth":1.2},"encoding":{"color":{"field":"g","type":"nominal","scale":{"domain":["KO - High","KO - Mid","KO - Low","KO - Veh","Het","WT"],"range":["#B44FD8","#5454F0","#4FA9F2","black","black","black"]},"legend":null}}},
{"mark":{"type":"errorbar","ticks":true,"thickness":1.2},"encoding":{"yError":{"field":"e"},"color":{"field":"g","type":"nominal","scale":{"domain":["KO - High","KO - Mid","KO - Low","KO - Veh","Het","WT"],"range":["#B44FD8","#5454F0","#4FA9F2","black","black","black"]},"legend":null}}},
{"transform":[{"filter":"datum.g == 'Het'"}],"mark":{"type":"point","shape":"circle","filled":true,"fill":"white","strokeWidth":0,"size":70,"opacity":1}},
{"mark":{"type":"point","filled":true,"size":70,"opacity":1,"strokeWidth":1.1},"encoding":{
"fill":{"field":"g","type":"nominal","scale":{"domain":["WT","Het","KO - Veh","KO - Low","KO - Mid","KO - High"],"range":["black","black","white","#4FA9F2","#5454F0","#B44FD8"]},"legend":null},
"stroke":{"field":"g","type":"nominal","scale":{"domain":["WT","Het","KO - Veh","KO - Low","KO - Mid","KO - High"],"range":["black","black","black","#4FA9F2","#5454F0","#B44FD8"]},"legend":null},
"shape":{"field":"g","type":"nominal","scale":{"domain":["WT","Het","KO - Veh","KO - Low","KO - Mid","KO - High"],"range":["circle","M0,-1A1,1,0,0,0,0,1Z M0,-1A1,1,0,0,1,0,1L0,0.72A0.72,0.72,0,0,0,0,-0.72Z","circle","circle","circle","circle"]},"legend":null}}},
{"data":{"name":"stars"},"transform":[{"filter":"datum.p == 'H'"}],"mark":{"type":"text","fontSize":14,"dy":8,"baseline":"alphabetic"},"encoding":{"text":{"field":"t"},"color":{"field":"g","type":"nominal","scale":{"domain":["KO - High","KO - Mid","KO - Low","KO - Veh","Het","WT"],"range":["#B44FD8","#5454F0","#4FA9F2","black","black","black"]},"legend":null}}},
{"transform":[{"filter":"datum.g == 'WT' && datum.x == 5"}],"mark":{"type":"text","text":"H","fontSize":17,"fontWeight":"bold","baseline":"middle"},"encoding":{"x":{"datum":2.85},"y":{"datum":2333}}}
]},

{"width":142,"height":93,"title":"Male mice treated at p7-10","data":{"name":"pts"},"transform":[{"filter":"datum.p == 'I'"}],
"encoding":{"x":{"field":"x","type":"quantitative","scale":{"domain":[4.25,17.6],"nice":false,"zero":false},"axis":{"values":[5,6,7,8,9,10,11,12,13,14,15,16,17],"labelExpr":"indexof([5,8,12,17], datum.value) >= 0 ? datum.label : ''","title":"Mouse age (mo)"}},
"y":{"field":"y","type":"quantitative","scale":{"domain":[0,8000],"nice":false,"zero":false},"axis":{"values":[0,2000,4000,6000,8000],"format":"d","title":"OF: Total distance (cm)"}}},
"layer":[
{"mark":{"type":"line","strokeWidth":1.2},"encoding":{"color":{"field":"g","type":"nominal","scale":{"domain":["KO - High","KO - Mid","KO - Low","KO - Veh","Het","WT"],"range":["#B44FD8","#5454F0","#4FA9F2","black","black","black"]},"legend":null}}},
{"mark":{"type":"errorbar","ticks":true,"thickness":1.2},"encoding":{"yError":{"field":"e"},"color":{"field":"g","type":"nominal","scale":{"domain":["KO - High","KO - Mid","KO - Low","KO - Veh","Het","WT"],"range":["#B44FD8","#5454F0","#4FA9F2","black","black","black"]},"legend":null}}},
{"transform":[{"filter":"datum.g == 'Het'"}],"mark":{"type":"point","shape":"circle","filled":true,"fill":"white","strokeWidth":0,"size":70,"opacity":1}},
{"mark":{"type":"point","filled":true,"size":70,"opacity":1,"strokeWidth":1.1},"encoding":{
"fill":{"field":"g","type":"nominal","scale":{"domain":["WT","Het","KO - Veh","KO - Low","KO - Mid","KO - High"],"range":["black","black","white","#4FA9F2","#5454F0","#B44FD8"]},"legend":null},
"stroke":{"field":"g","type":"nominal","scale":{"domain":["WT","Het","KO - Veh","KO - Low","KO - Mid","KO - High"],"range":["black","black","black","#4FA9F2","#5454F0","#B44FD8"]},"legend":null},
"shape":{"field":"g","type":"nominal","scale":{"domain":["WT","Het","KO - Veh","KO - Low","KO - Mid","KO - High"],"range":["circle","M0,-1A1,1,0,0,0,0,1Z M0,-1A1,1,0,0,1,0,1L0,0.72A0.72,0.72,0,0,0,0,-0.72Z","circle","circle","circle","circle"]},"legend":null}}},
{"data":{"name":"stars"},"transform":[{"filter":"datum.p == 'I'"}],"mark":{"type":"text","fontSize":14,"dy":8,"baseline":"alphabetic"},"encoding":{"text":{"field":"t"},"color":{"field":"g","type":"nominal","scale":{"domain":["KO - High","KO - Mid","KO - Low","KO - Veh","Het","WT"],"range":["#B44FD8","#5454F0","#4FA9F2","black","black","black"]},"legend":null}}},
{"transform":[{"filter":"datum.g == 'WT' && datum.x == 5"}],"mark":{"type":"text","text":"I","fontSize":17,"fontWeight":"bold","baseline":"middle"},"encoding":{"x":{"datum":0.78},"y":{"datum":9630}}}
]},

{"width":146,"height":93,"title":"Female mice treated at p7-10","data":{"name":"pts"},"transform":[{"filter":"datum.p == 'J'"}],
"encoding":{"x":{"field":"x","type":"quantitative","scale":{"domain":[4.52,18.42],"nice":false,"zero":false},"axis":{"values":[5,6,7,8,9,10,11,12,13,14,15,16,17],"labelExpr":"indexof([5,8,12,17], datum.value) >= 0 ? datum.label : ''","title":"Mouse age (mo)"}},
"y":{"field":"y","type":"quantitative","scale":{"domain":[0,8000],"nice":false,"zero":false},"axis":{"values":[0,2000,4000,6000,8000],"format":"d","title":null}}},
"layer":[
{"mark":{"type":"line","strokeWidth":1.2},"encoding":{"color":{"field":"g","type":"nominal","scale":{"domain":["KO - High","KO - Mid","KO - Low","KO - Veh","Het","WT"],"range":["#B44FD8","#5454F0","#4FA9F2","black","black","black"]},"legend":null}}},
{"mark":{"type":"errorbar","ticks":true,"thickness":1.2},"encoding":{"yError":{"field":"e"},"color":{"field":"g","type":"nominal","scale":{"domain":["KO - High","KO - Mid","KO - Low","KO - Veh","Het","WT"],"range":["#B44FD8","#5454F0","#4FA9F2","black","black","black"]},"legend":null}}},
{"transform":[{"filter":"datum.g == 'Het'"}],"mark":{"type":"point","shape":"circle","filled":true,"fill":"white","strokeWidth":0,"size":70,"opacity":1}},
{"mark":{"type":"point","filled":true,"size":70,"opacity":1,"strokeWidth":1.1},"encoding":{
"fill":{"field":"g","type":"nominal","scale":{"domain":["WT","Het","KO - Veh","KO - Low","KO - Mid","KO - High"],"range":["black","black","white","#4FA9F2","#5454F0","#B44FD8"]},"legend":null},
"stroke":{"field":"g","type":"nominal","scale":{"domain":["WT","Het","KO - Veh","KO - Low","KO - Mid","KO - High"],"range":["black","black","black","#4FA9F2","#5454F0","#B44FD8"]},"legend":null},
"shape":{"field":"g","type":"nominal","scale":{"domain":["WT","Het","KO - Veh","KO - Low","KO - Mid","KO - High"],"range":["circle","M0,-1A1,1,0,0,0,0,1Z M0,-1A1,1,0,0,1,0,1L0,0.72A0.72,0.72,0,0,0,0,-0.72Z","circle","circle","circle","circle"]},"legend":null}}},
{"data":{"name":"stars"},"transform":[{"filter":"datum.p == 'J'"}],"mark":{"type":"text","fontSize":14,"dy":8,"baseline":"alphabetic"},"encoding":{"text":{"field":"t"},"color":{"field":"g","type":"nominal","scale":{"domain":["KO - High","KO - Mid","KO - Low","KO - Veh","Het","WT"],"range":["#B44FD8","#5454F0","#4FA9F2","black","black","black"]},"legend":null}}},
{"transform":[{"filter":"datum.g == 'WT' && datum.x == 5"}],"mark":{"type":"text","text":"J","fontSize":17,"fontWeight":"bold","baseline":"middle"},"encoding":{"x":{"datum":1.95},"y":{"datum":9630}}}
]},

{"width":142,"height":93,"title":"Male mice treated at p90","data":{"name":"pts"},"transform":[{"filter":"datum.p == 'K'"}],
"encoding":{"x":{"field":"x","type":"quantitative","scale":{"domain":[4.35,17.56],"nice":false,"zero":false},"axis":{"values":[5,6,7,8,9,10,11,12,13,14,15,16,17],"labelExpr":"indexof([5,8,12,17], datum.value) >= 0 ? datum.label : ''","title":"Mouse age (mo)"}},
"y":{"field":"y","type":"quantitative","scale":{"domain":[0,8000],"nice":false,"zero":false},"axis":{"values":[0,2000,4000,6000,8000],"format":"d","title":null}}},
"layer":[
{"mark":{"type":"line","strokeWidth":1.2},"encoding":{"color":{"field":"g","type":"nominal","scale":{"domain":["KO - High","KO - Mid","KO - Low","KO - Veh","Het","WT"],"range":["#B44FD8","#5454F0","#4FA9F2","black","black","black"]},"legend":null}}},
{"mark":{"type":"errorbar","ticks":true,"thickness":1.2},"encoding":{"yError":{"field":"e"},"color":{"field":"g","type":"nominal","scale":{"domain":["KO - High","KO - Mid","KO - Low","KO - Veh","Het","WT"],"range":["#B44FD8","#5454F0","#4FA9F2","black","black","black"]},"legend":null}}},
{"transform":[{"filter":"datum.g == 'Het'"}],"mark":{"type":"point","shape":"circle","filled":true,"fill":"white","strokeWidth":0,"size":70,"opacity":1}},
{"mark":{"type":"point","filled":true,"size":70,"opacity":1,"strokeWidth":1.1},"encoding":{
"fill":{"field":"g","type":"nominal","scale":{"domain":["WT","Het","KO - Veh","KO - Low","KO - Mid","KO - High"],"range":["black","black","white","#4FA9F2","#5454F0","#B44FD8"]},"legend":null},
"stroke":{"field":"g","type":"nominal","scale":{"domain":["WT","Het","KO - Veh","KO - Low","KO - Mid","KO - High"],"range":["black","black","black","#4FA9F2","#5454F0","#B44FD8"]},"legend":null},
"shape":{"field":"g","type":"nominal","scale":{"domain":["WT","Het","KO - Veh","KO - Low","KO - Mid","KO - High"],"range":["circle","M0,-1A1,1,0,0,0,0,1Z M0,-1A1,1,0,0,1,0,1L0,0.72A0.72,0.72,0,0,0,0,-0.72Z","circle","circle","circle","circle"]},"legend":null}}},
{"data":{"name":"stars"},"transform":[{"filter":"datum.p == 'K'"}],"mark":{"type":"text","fontSize":14,"dy":8,"baseline":"alphabetic"},"encoding":{"text":{"field":"t"},"color":{"field":"g","type":"nominal","scale":{"domain":["KO - High","KO - Mid","KO - Low","KO - Veh","Het","WT"],"range":["#B44FD8","#5454F0","#4FA9F2","black","black","black"]},"legend":null}}},
{"transform":[{"filter":"datum.g == 'WT' && datum.x == 5"}],"mark":{"type":"text","text":"K","fontSize":17,"fontWeight":"bold","baseline":"middle"},"encoding":{"x":{"datum":2.68},"y":{"datum":9630}}}
]},

{"width":144,"height":93,"title":"Female mice treated at p90","data":{"name":"pts"},"transform":[{"filter":"datum.p == 'L'"}],
"encoding":{"x":{"field":"x","type":"quantitative","scale":{"domain":[4.16,17.66],"nice":false,"zero":false},"axis":{"values":[5,6,7,8,9,10,11,12,13,14,15,16,17],"labelExpr":"indexof([5,8,12,17], datum.value) >= 0 ? datum.label : ''","title":"Mouse age (mo)"}},
"y":{"field":"y","type":"quantitative","scale":{"domain":[0,8000],"nice":false,"zero":false},"axis":{"values":[0,2000,4000,6000,8000],"format":"d","title":null}}},
"layer":[
{"mark":{"type":"line","strokeWidth":1.2},"encoding":{"color":{"field":"g","type":"nominal","scale":{"domain":["KO - High","KO - Mid","KO - Low","KO - Veh","Het","WT"],"range":["#B44FD8","#5454F0","#4FA9F2","black","black","black"]},"legend":null}}},
{"mark":{"type":"errorbar","ticks":true,"thickness":1.2},"encoding":{"yError":{"field":"e"},"color":{"field":"g","type":"nominal","scale":{"domain":["KO - High","KO - Mid","KO - Low","KO - Veh","Het","WT"],"range":["#B44FD8","#5454F0","#4FA9F2","black","black","black"]},"legend":null}}},
{"transform":[{"filter":"datum.g == 'Het'"}],"mark":{"type":"point","shape":"circle","filled":true,"fill":"white","strokeWidth":0,"size":70,"opacity":1}},
{"mark":{"type":"point","filled":true,"size":70,"opacity":1,"strokeWidth":1.1},"encoding":{
"fill":{"field":"g","type":"nominal","scale":{"domain":["WT","Het","KO - Veh","KO - Low","KO - Mid","KO - High"],"range":["black","black","white","#4FA9F2","#5454F0","#B44FD8"]},"legend":null},
"stroke":{"field":"g","type":"nominal","scale":{"domain":["WT","Het","KO - Veh","KO - Low","KO - Mid","KO - High"],"range":["black","black","black","#4FA9F2","#5454F0","#B44FD8"]},"legend":null},
"shape":{"field":"g","type":"nominal","scale":{"domain":["WT","Het","KO - Veh","KO - Low","KO - Mid","KO - High"],"range":["circle","M0,-1A1,1,0,0,0,0,1Z M0,-1A1,1,0,0,1,0,1L0,0.72A0.72,0.72,0,0,0,0,-0.72Z","circle","circle","circle","circle"]},"legend":null}}},
{"data":{"name":"stars"},"transform":[{"filter":"datum.p == 'L'"}],"mark":{"type":"text","fontSize":14,"dy":8,"baseline":"alphabetic"},"encoding":{"text":{"field":"t"},"color":{"field":"g","type":"nominal","scale":{"domain":["KO - High","KO - Mid","KO - Low","KO - Veh","Het","WT"],"range":["#B44FD8","#5454F0","#4FA9F2","black","black","black"]},"legend":null}}},
{"transform":[{"filter":"datum.g == 'WT' && datum.x == 5"}],"mark":{"type":"text","text":"L","fontSize":17,"fontWeight":"bold","baseline":"middle"},"encoding":{"x":{"datum":2.66},"y":{"datum":9630}}}
]}
],
"config": {
"font": "Liberation Sans",
"view": {"stroke": null},
"axis": {"grid": false, "domainColor": "black", "tickColor": "black", "labelColor": "black", "titleColor": "black", "labelFontSize": 11, "titleFontSize": 11, "titleFontWeight": "normal", "tickSize": 4, "labelPadding": 2, "domainWidth": 1, "tickWidth": 1, "labelFont": "Liberation Sans", "titleFont": "Liberation Sans"},
"axisY": {"titlePadding": 3, "labelPadding": 1},
"axisX": {"titlePadding": 2},
"title": {"fontSize": 10.5, "fontWeight": "normal", "color": "black", "offset": 9, "dy": 26, "font": "Liberation Sans"},
"legend": {"labelFont": "Liberation Sans", "labelColor": "black"}
}
}
